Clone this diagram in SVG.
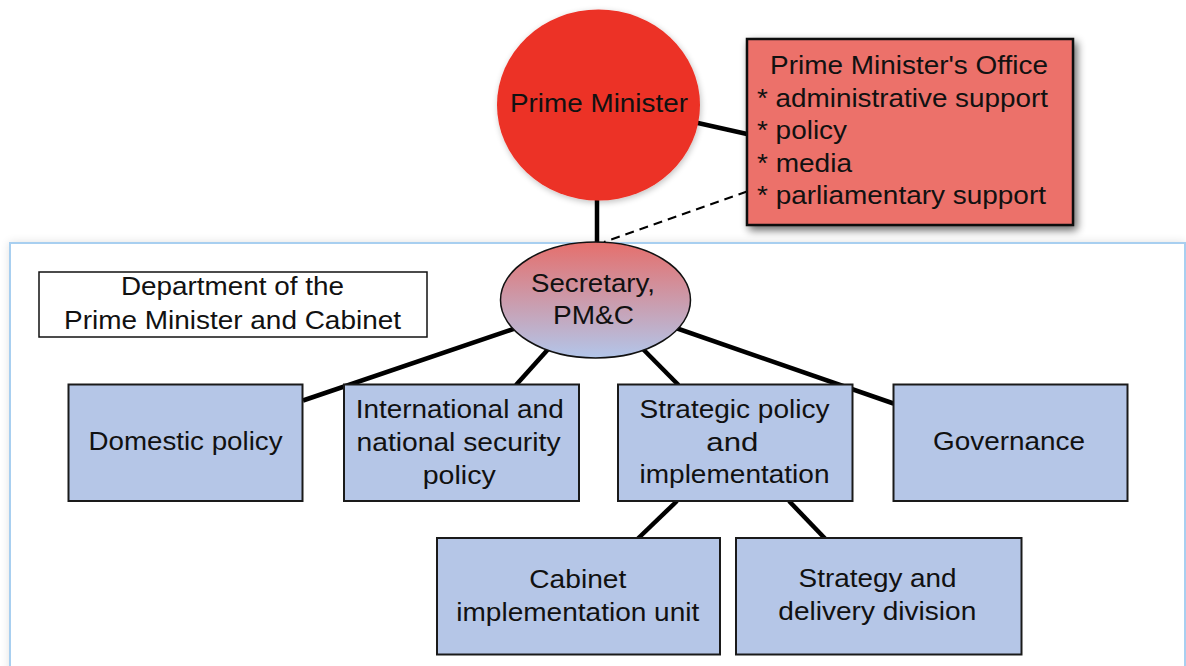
<svg xmlns="http://www.w3.org/2000/svg" width="1186" height="666" viewBox="0 0 1186 666">
  <defs>
    <style>
      .t { font-family: "Liberation Sans", Arial, Helvetica, sans-serif; font-size: 25px; fill: #111; }
      .m { text-anchor: middle; }
      .box { fill: #b5c6e7; stroke: #1a1a1a; stroke-width: 2; }
      .conn { stroke: #000; stroke-width: 4.5; fill: none; }
      .dash { stroke: #000; stroke-width: 2; stroke-dasharray: 9 6; fill: none; }
    </style>
    <linearGradient id="secGrad" x1="0" y1="0" x2="0" y2="1">
      <stop offset="0" stop-color="#e56f6c"/>
      <stop offset="1" stop-color="#b2c6ea"/>
    </linearGradient>
    <filter id="shadow" x="-20%" y="-20%" width="140%" height="140%">
      <feGaussianBlur in="SourceAlpha" stdDeviation="4"/>
      <feOffset dx="3" dy="4" result="b"/>
      <feComponentTransfer><feFuncA type="linear" slope="0.6"/></feComponentTransfer>
      <feMerge><feMergeNode/><feMergeNode in="SourceGraphic"/></feMerge>
    </filter>
    <filter id="softShadow" x="-20%" y="-20%" width="140%" height="140%">
      <feGaussianBlur in="SourceAlpha" stdDeviation="3"/>
      <feOffset dx="1" dy="2" result="b"/>
      <feComponentTransfer><feFuncA type="linear" slope="0.25"/></feComponentTransfer>
      <feMerge><feMergeNode/><feMergeNode in="SourceGraphic"/></feMerge>
    </filter>
    <filter id="containerShadow" x="-5%" y="-5%" width="110%" height="110%">
      <feGaussianBlur in="SourceAlpha" stdDeviation="5"/>
      <feComponentTransfer><feFuncA type="linear" slope="0.12"/></feComponentTransfer>
      <feMerge><feMergeNode/><feMergeNode in="SourceGraphic"/></feMerge>
    </filter>
  </defs>

  <rect x="0" y="0" width="1186" height="666" fill="#ffffff"/>

  <g id="container">
    <rect x="10" y="243" width="1175" height="500" fill="#ffffff" stroke="#a8cff0" stroke-width="2" filter="url(#containerShadow)"/>
  </g>

  <g id="connectors">
    <line class="conn" x1="680" y1="119" x2="747" y2="134"/>
    <line class="conn" x1="597" y1="190" x2="597" y2="250"/>
    <line class="dash" x1="747" y1="191.5" x2="604" y2="242"/>
    <line class="conn" x1="540" y1="320" x2="303" y2="400.5"/>
    <line class="conn" x1="560" y1="336" x2="516" y2="385"/>
    <line class="conn" x1="630" y1="336" x2="678.5" y2="385"/>
    <line class="conn" x1="650" y1="319" x2="893.5" y2="403.5"/>
    <line class="conn" x1="677" y1="501" x2="638" y2="538.5"/>
    <line class="conn" x1="789" y1="501" x2="825" y2="538.5"/>
  </g>

  <g id="prime-minister">
    <ellipse cx="598.5" cy="105" rx="101.5" ry="95.5" fill="#ec3025" filter="url(#softShadow)"/>
    <text class="t m" x="599" y="112" textLength="178" lengthAdjust="spacingAndGlyphs">Prime Minister</text>
  </g>

  <g id="pm-office">
    <rect x="747" y="39" width="326" height="186" fill="#ec716b" stroke="#111" stroke-width="2.5" filter="url(#shadow)"/>
    <text class="t m" x="909" y="74" textLength="278" lengthAdjust="spacingAndGlyphs">Prime Minister's Office</text>
    <text class="t" x="757" y="106.5" textLength="291" lengthAdjust="spacingAndGlyphs">* administrative support</text>
    <text class="t" x="757" y="139" textLength="90" lengthAdjust="spacingAndGlyphs">* policy</text>
    <text class="t" x="757" y="171.5" textLength="95" lengthAdjust="spacingAndGlyphs">* media</text>
    <text class="t" x="757" y="204" textLength="289" lengthAdjust="spacingAndGlyphs">* parliamentary support</text>
  </g>

  <g id="department-label">
    <rect x="39" y="272" width="388" height="65" fill="#ffffff" stroke="#111" stroke-width="1.5"/>
    <text class="t m" x="232.5" y="295" textLength="223" lengthAdjust="spacingAndGlyphs">Department of the</text>
    <text class="t m" x="232.5" y="329" textLength="337" lengthAdjust="spacingAndGlyphs">Prime Minister and Cabinet</text>
  </g>

  <g id="secretary">
    <ellipse cx="595.5" cy="300" rx="95" ry="58" fill="url(#secGrad)" stroke="#111" stroke-width="1.5"/>
    <text class="t m" x="593" y="291.5" textLength="124" lengthAdjust="spacingAndGlyphs">Secretary,</text>
    <text class="t m" x="593.5" y="323.5" textLength="81" lengthAdjust="spacingAndGlyphs">PM&amp;C</text>
  </g>

  <g id="domestic-policy">
    <rect class="box" x="68.5" y="384.5" width="234" height="116.5"/>
    <text class="t m" x="185.5" y="450" textLength="194" lengthAdjust="spacingAndGlyphs">Domestic policy</text>
  </g>

  <g id="international-policy">
    <rect class="box" x="344" y="384.5" width="235" height="116.5"/>
    <text class="t m" x="459.7" y="418.3" textLength="208" lengthAdjust="spacingAndGlyphs">International and</text>
    <text class="t m" x="458.5" y="451" textLength="204" lengthAdjust="spacingAndGlyphs">national security</text>
    <text class="t m" x="459.2" y="483.5" textLength="73" lengthAdjust="spacingAndGlyphs">policy</text>
  </g>

  <g id="strategic-policy">
    <rect class="box" x="618" y="384.5" width="234.5" height="116.5"/>
    <text class="t m" x="734.5" y="418.3" textLength="190" lengthAdjust="spacingAndGlyphs">Strategic policy</text>
    <text class="t m" x="732.3" y="450.5" textLength="52" lengthAdjust="spacingAndGlyphs">and</text>
    <text class="t m" x="734.5" y="483" textLength="190" lengthAdjust="spacingAndGlyphs">implementation</text>
  </g>

  <g id="governance">
    <rect class="box" x="893.5" y="384.5" width="234" height="116.5"/>
    <text class="t m" x="1009" y="450" textLength="152" lengthAdjust="spacingAndGlyphs">Governance</text>
  </g>

  <g id="cabinet-implementation-unit">
    <rect class="box" x="437" y="538" width="283" height="116.5"/>
    <text class="t m" x="577.8" y="587.7" textLength="97" lengthAdjust="spacingAndGlyphs">Cabinet</text>
    <text class="t m" x="577.8" y="620.5" textLength="243" lengthAdjust="spacingAndGlyphs">implementation unit</text>
  </g>

  <g id="strategy-delivery-division">
    <rect class="box" x="736" y="538" width="285.5" height="116.5"/>
    <text class="t m" x="877.6" y="587.3" textLength="158" lengthAdjust="spacingAndGlyphs">Strategy and</text>
    <text class="t m" x="877.3" y="620" textLength="198" lengthAdjust="spacingAndGlyphs">delivery division</text>
  </g>
</svg>
